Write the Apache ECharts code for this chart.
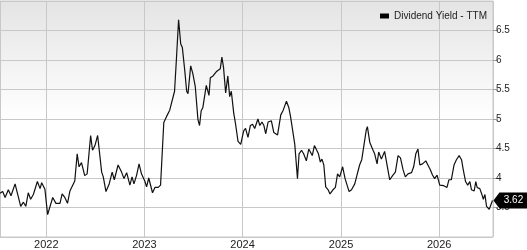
<!DOCTYPE html>
<html>
<head>
<meta charset="utf-8">
<script src="https://cdn.jsdelivr.net/npm/echarts@6/dist/echarts.min.js"></script>
<style>
html,body{margin:0;padding:0;background:#fff;}
#chart{width:527px;height:250px;}
</style>
</head>
<body>
<div id="chart"></div>
<script>
var seriesName = 'Dividend Yield - TTM';
var dates = [
'2021-07-13','2021-07-23','2021-08-01','2021-08-13','2021-08-23','2021-09-07','2021-09-13','2021-09-28','2021-10-08','2021-10-17',
'2021-10-26','2021-11-04','2021-11-14','2021-11-29','2021-12-09','2021-12-15','2021-12-27','2022-01-06','2022-01-12','2022-01-25',
'2022-02-06','2022-02-21','2022-03-01','2022-03-11','2022-03-21','2022-03-30','2022-04-05','2022-04-17','2022-04-26','2022-05-03',
'2022-05-12','2022-05-24','2022-06-02','2022-06-15','2022-06-22','2022-07-01','2022-07-11','2022-07-26','2022-08-01','2022-08-11',
'2022-08-23','2022-09-03','2022-09-11','2022-09-25','2022-10-08','2022-10-17','2022-10-27','2022-11-08','2022-11-16','2022-11-23',
'2022-12-03','2022-12-12','2022-12-21','2023-01-03','2023-01-09','2023-01-17','2023-01-31','2023-02-09','2023-02-21','2023-03-02',
'2023-03-14','2023-03-24','2023-04-05','2023-04-11','2023-04-23','2023-04-30','2023-05-08','2023-05-16','2023-05-22','2023-05-31',
'2023-06-07','2023-06-12','2023-06-22','2023-06-30','2023-07-09','2023-07-19','2023-07-25','2023-07-31','2023-08-06','2023-08-19',
'2023-08-29','2023-09-03','2023-09-13','2023-09-25','2023-10-10','2023-10-16','2023-10-22','2023-10-30','2023-11-07','2023-11-14',
'2023-11-20','2023-11-29','2023-12-05','2023-12-15','2023-12-25','2024-01-05','2024-01-12','2024-01-21','2024-01-30','2024-02-07',
'2024-02-15','2024-02-27','2024-03-05','2024-03-13','2024-03-20','2024-03-27','2024-04-05','2024-04-17','2024-04-26','2024-05-03',
'2024-05-10','2024-05-16','2024-05-22','2024-05-31','2024-06-12','2024-06-21','2024-06-27','2024-07-03','2024-07-13','2024-07-23',
'2024-07-29','2024-08-07','2024-08-15','2024-08-25','2024-09-03','2024-09-08','2024-09-16','2024-09-24','2024-10-01','2024-10-09',
'2024-10-16','2024-10-22','2024-10-29','2024-11-05','2024-11-14','2024-11-21','2024-12-02','2024-12-11','2024-12-19','2024-12-27',
'2025-01-07','2025-01-16','2025-01-22','2025-01-31','2025-02-09','2025-02-21','2025-02-27','2025-03-11','2025-03-19','2025-03-26',
'2025-04-05','2025-04-09','2025-04-18','2025-04-24','2025-04-30','2025-05-06','2025-05-15','2025-05-21','2025-05-31','2025-06-06',
'2025-06-12','2025-06-19','2025-07-01','2025-07-13','2025-07-22','2025-08-01','2025-08-10','2025-08-19','2025-08-28','2025-09-07',
'2025-09-20','2025-09-28','2025-10-06','2025-10-14','2025-10-21','2025-10-31','2025-11-04','2025-11-12','2025-11-20','2025-11-29',
'2025-12-07','2025-12-15','2025-12-24','2026-01-03','2026-01-09','2026-01-18','2026-01-25','2026-01-30','2026-02-06','2026-02-15',
'2026-02-25','2026-03-06','2026-03-16','2026-03-25','2026-03-31','2026-04-09','2026-04-17','2026-04-25','2026-05-01','2026-05-11',
'2026-05-17','2026-05-22','2026-06-01','2026-06-08','2026-06-14','2026-06-20','2026-06-26','2026-07-06','2026-07-11','2026-07-18'
];
var yieldValues = [
3.74,3.77,3.67,3.80,3.70,3.90,3.90,3.52,3.59,3.52,
3.75,3.64,3.72,3.94,3.82,3.92,3.81,3.38,3.37,3.67,
3.57,3.57,3.73,3.67,3.57,3.78,3.78,3.95,4.41,4.19,
4.26,4.04,4.07,4.72,4.47,4.55,4.72,4.10,4.02,3.77,
3.90,4.10,3.97,4.22,4.10,3.99,4.09,3.88,4.02,3.90,
4.05,4.24,4.07,3.94,3.85,4.00,3.75,3.84,3.84,3.88,
4.94,5.04,5.15,5.14,5.47,6.02,6.68,6.27,6.21,5.82,
5.47,5.43,5.90,5.77,5.55,4.99,4.89,5.14,5.19,5.57,
5.40,5.70,5.73,5.80,5.85,6.05,5.88,5.44,5.73,5.38,
5.47,5.10,4.94,4.62,4.57,4.80,4.84,4.69,4.89,4.91,
4.84,5.00,4.89,4.95,4.89,4.75,4.95,4.97,4.77,4.78,
4.73,4.75,5.07,5.15,5.30,5.19,5.05,5.07,4.57,3.99,
4.41,4.47,4.41,4.29,4.49,4.45,4.38,4.55,4.53,4.41,
4.27,4.32,4.22,3.85,3.80,3.73,3.80,3.84,4.07,4.02,
4.19,3.99,3.96,3.77,3.80,3.90,3.88,4.22,4.31,4.31,
4.82,4.87,4.60,4.57,4.47,4.41,4.24,4.44,4.32,4.31,
4.45,4.47,3.97,4.05,4.10,4.38,4.34,4.15,4.02,4.07,
4.09,4.19,4.41,4.49,4.22,4.24,4.22,4.29,4.22,4.14,
4.05,3.99,4.05,3.88,3.90,3.87,3.90,3.84,3.97,3.97,
4.22,4.31,4.38,4.31,4.15,3.94,3.88,3.94,3.80,3.78,
3.94,3.84,3.82,3.73,3.64,3.72,3.52,3.47,3.47,3.62
];
var xRange = ['2021-07-13', '2026-07-20'];
var yTicks = {min: 3, max: 7, step: 0.5};

var data = dates.map(function (d, i) { return [d, yieldValues[i]]; });
var last = data[data.length - 1];

var chart = echarts.init(document.getElementById('chart'), null, {renderer: 'canvas'});
chart.setOption({
  animation: false,
  backgroundColor: '#fff',
  textStyle: {fontFamily: 'Liberation Sans, Arial, sans-serif'},
  grid: {
    left: 0, right: 34, top: 1, bottom: 9,
    show: true,
    borderColor: '#c8c8c8',
    borderWidth: 1,
    backgroundColor: {
      type: 'linear', x: 0, y: 0, x2: 0, y2: 1,
      colorStops: [{offset: 0, color: '#e4e4e4'}, {offset: 0.5, color: '#ffffff'}, {offset: 1, color: '#ffffff'}]
    }
  },
  legend: {
    data: [seriesName],
    left: 375, top: 6,
    icon: 'rect', itemWidth: 9, itemHeight: 5, itemGap: 5,
    textStyle: {fontSize: 10, color: '#222', fontFamily: 'Liberation Sans, Arial, sans-serif'}
  },
  xAxis: {
    type: 'time',
    min: xRange[0], max: xRange[1],
    splitNumber: 5,
    axisLine: {show: false},
    axisTick: {show: false},
    splitLine: {show: true, lineStyle: {color: '#c8c8c8', width: 1}},
    axisLabel: {
      formatter: '{yyyy}', fontSize: 11, color: '#222', margin: 2,
      hideOverlap: false
    }
  },
  yAxis: {
    type: 'value', position: 'right',
    min: yTicks.min, max: yTicks.max, interval: yTicks.step,
    axisLine: {show: false},
    axisTick: {show: true, length: 5, lineStyle: {color: '#999'}},
    splitLine: {show: true, lineStyle: {color: '#c8c8c8', width: 1}},
    axisLabel: {
      fontSize: 10, color: '#222', margin: 3,
      showMinLabel: false, showMaxLabel: false
    }
  },
  series: [{
    name: seriesName,
    type: 'line',
    data: data,
    showSymbol: false,
    symbol: 'none',
    color: '#000',
    lineStyle: {color: '#111', width: 1.2},
    markPoint: {
      silent: true,
      symbol: 'path://M0,8 L6,0 L34,0 L34,16 L6,16 Z',
      symbolSize: [34, 16],
      symbolOffset: [18, 0],
      itemStyle: {color: '#000'},
      label: {
        show: true, color: '#fff', fontSize: 10,
        offset: [3, 0],
        formatter: function (p) { return p.value.toFixed(2); }
      },
      data: [{coord: last, value: last[1]}]
    }
  }]
});
</script>
</body>
</html>
